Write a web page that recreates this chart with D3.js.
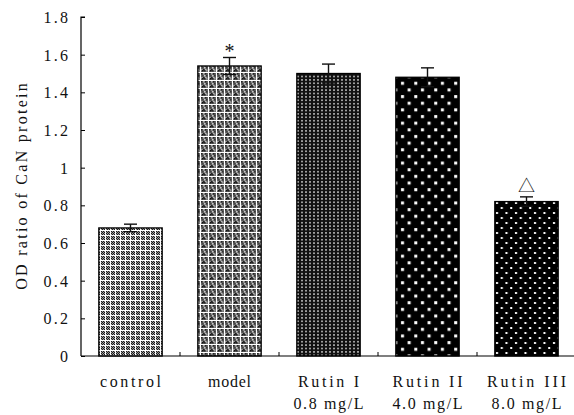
<!DOCTYPE html>
<html>
<head>
<meta charset="utf-8">
<script src="https://cdn.jsdelivr.net/npm/d3@7"></script>
<style>
  html, body { margin: 0; padding: 0; background: #fff; }
  svg text { font-family: "Liberation Serif", "DejaVu Serif", serif; fill: #111; }
</style>
</head>
<body>
<svg id="chart" width="574" height="415"></svg>
<script>
// Group labels (two lines for dosed groups)
const groups = ["control", "model", "Rutin I", "Rutin II", "Rutin III"];
const doses = ["", "", "0.8 mg/L", "4.0 mg/L", "8.0 mg/L"];
// Mean OD ratio and error (SD)
const means = [0.68, 1.54, 1.50, 1.48, 0.82];
const errors = [0.02, 0.045, 0.05, 0.05, 0.025];
// Significance markers drawn over the error bars
const marks = ["", "*", "", "", "△"];
const yTicks = [0, 0.2, 0.4, 0.6, 0.8, 1, 1.2, 1.4, 1.6, 1.8];
const yLabel = "OD ratio of CaN protein";

const svg = d3.select("#chart");
const x0 = 81, x1 = 576, yTop = 17, yBot = 356;
const CH = 9.1; // fixed advance per character (half-width glyphs)

// Give every label a fixed per-character advance, like a half-width CJK font
function mono(sel) {
  sel.each(function () {
    const t = d3.select(this);
    const n = t.text().length;
    if (n > 1) t.attr("textLength", (n - 0.3) * CH).attr("lengthAdjust", "spacing");
  });
}

const x = d3.scaleBand().domain(groups).range([x0, x1]).paddingInner(0.36).paddingOuter(0.18);
const y = d3.scaleLinear().domain([0, 1.8]).range([yBot, yTop]);

// ---- fill patterns, one per group ----
const defs = svg.append("defs");

// control: fine pixel checker crossed by white grid lines
{
  const p = defs.append("pattern").attr("id", "pat0").attr("patternUnits", "userSpaceOnUse")
    .attr("width", 5).attr("height", 5);
  p.append("rect").attr("width", 5).attr("height", 5).attr("fill", "#9a9a9a");
  for (let i = 0; i < 5; i++) for (let j = 0; j < 5; j++) {
    if ((i + j) % 2 === 0) p.append("rect").attr("x", i).attr("y", j).attr("width", 1).attr("height", 1).attr("fill", "#1a1a1a");
  }
  p.append("rect").attr("x", 0).attr("y", 0).attr("width", 5).attr("height", 1).attr("fill", "#fff");
  p.append("rect").attr("x", 0).attr("y", 0).attr("width", 1).attr("height", 5).attr("fill", "#fff");
}
// model: grey mottled cells in a white grid
{
  const p = defs.append("pattern").attr("id", "pat1").attr("patternUnits", "userSpaceOnUse")
    .attr("width", 8).attr("height", 8);
  p.append("rect").attr("width", 8).attr("height", 8).attr("fill", "#666");
  const cells = [[1,1,"#222"],[3,1,"#aaa"],[5,1,"#222"],[2,3,"#444"],[4,3,"#ccc"],[6,3,"#333"],
                 [1,5,"#aaa"],[3,5,"#222"],[5,5,"#bbb"],[2,6,"#111"],[6,6,"#999"],[4,6,"#222"]];
  cells.forEach(c => p.append("rect").attr("x", c[0]).attr("y", c[1]).attr("width", 1.5).attr("height", 1.5).attr("fill", c[2]));
  p.append("rect").attr("x", 0).attr("y", 0).attr("width", 8).attr("height", 1).attr("fill", "#fff");
  p.append("rect").attr("x", 0).attr("y", 0).attr("width", 1).attr("height", 8).attr("fill", "#fff");
}
// Rutin I: dense small light dots on black
{
  const p = defs.append("pattern").attr("id", "pat2").attr("patternUnits", "userSpaceOnUse")
    .attr("width", 4).attr("height", 3.4);
  p.append("rect").attr("width", 4).attr("height", 3.4).attr("fill", "#111");
  p.append("rect").attr("x", 1).attr("y", 1).attr("width", 2).attr("height", 1.4).attr("fill", "#bbb");
}
// Rutin II: staggered white squares on black
{
  const w = 13.3, h = 13.3;
  const p = defs.append("pattern").attr("id", "pat3").attr("patternUnits", "userSpaceOnUse")
    .attr("width", w).attr("height", h);
  p.append("rect").attr("width", w).attr("height", h).attr("fill", "#000");
  p.append("rect").attr("x", 2).attr("y", 2).attr("width", 3).attr("height", 3).attr("fill", "#fff");
  p.append("rect").attr("x", 2 + w / 2).attr("y", 2 + h / 2).attr("width", 3).attr("height", 3).attr("fill", "#fff");
}
// Rutin III: smaller staggered white squares on black
{
  const w = 9.5, h = 10;
  const p = defs.append("pattern").attr("id", "pat4").attr("patternUnits", "userSpaceOnUse")
    .attr("width", w).attr("height", h);
  p.append("rect").attr("width", w).attr("height", h).attr("fill", "#000");
  p.append("rect").attr("x", 2).attr("y", 2).attr("width", 2).attr("height", 2).attr("fill", "#fff");
  p.append("rect").attr("x", 2 + w / 2).attr("y", 2 + h / 2).attr("width", 2).attr("height", 2).attr("fill", "#fff");
}

// ---- bars ----
svg.append("g").selectAll("rect").data(groups).join("rect")
  .attr("x", d => x(d))
  .attr("y", (d, i) => y(means[i]))
  .attr("width", x.bandwidth())
  .attr("height", (d, i) => y(0) - y(means[i]))
  .attr("fill", (d, i) => `url(#pat${i})`)
  .attr("stroke", "#000").attr("stroke-width", 1.3);

// ---- error bars ----
const eb = svg.append("g").attr("stroke", "#111").attr("stroke-width", 1.4);
groups.forEach((g, i) => {
  const cx = x(g) + x.bandwidth() / 2;
  const hi = y(means[i] + errors[i]), lo = y(means[i] - errors[i]);
  eb.append("line").attr("x1", cx).attr("x2", cx).attr("y1", hi).attr("y2", lo);
  eb.append("line").attr("x1", cx - 6.5).attr("x2", cx + 6.5).attr("y1", hi).attr("y2", hi);
  eb.append("line").attr("x1", cx - 6.5).attr("x2", cx + 6.5).attr("y1", lo).attr("y2", lo);
});

// ---- significance marks ----
svg.append("g").selectAll("text").data(groups).join("text")
  .attr("x", d => x(d) + x.bandwidth() / 2)
  .attr("y", (d, i) => y(means[i] + errors[i]) + (marks[i] === "*" ? 1 : -5))
  .attr("text-anchor", "middle")
  .attr("font-size", (d, i) => marks[i] === "*" ? 20 : 17)
  .style("font-family", (d, i) => marks[i] === "*" ? "'Liberation Serif', serif" : "'Noto Sans CJK SC', 'DejaVu Sans', sans-serif")
  .text((d, i) => marks[i]);

// ---- y axis ----
const yAxis = d3.axisRight(y).tickValues(yTicks).tickSize(4).tickFormat(d3.format("~g"));
const gy = svg.append("g").attr("transform", `translate(${x0},0)`).call(yAxis);
gy.select(".domain").attr("stroke", "#000").attr("stroke-width", 1.2).attr("d", `M4,${yTop}H0V${yBot}`);
gy.selectAll(".tick line").attr("stroke", "#000");
gy.selectAll(".tick text").attr("x", -13).attr("text-anchor", "end").attr("dy", "0.35em")
  .attr("font-size", 16).style("font-family", "'Liberation Serif', serif").attr("fill", "#111")
  .call(mono);

// ---- x axis ----
const gx = svg.append("g").attr("transform", `translate(0,${yBot})`);
gx.append("line").attr("x1", x0).attr("x2", 574).attr("y1", 0).attr("y2", 0)
  .attr("stroke", "#000").attr("stroke-width", 1.2);
const step = x.step();
const bounds = d3.range(1, groups.length).map(k => x(groups[k]) - (step - x.bandwidth()) / 2);
gx.selectAll("line.tk").data(bounds).join("line").attr("class", "tk")
  .attr("x1", d => d).attr("x2", d => d).attr("y1", 0).attr("y2", -4)
  .attr("stroke", "#000");

const lab = svg.append("g");
groups.forEach((g, i) => {
  const cx = x(g) + x.bandwidth() / 2;
  lab.append("text").attr("x", cx).attr("y", 387).attr("text-anchor", "middle").attr("font-size", 16).text(g).call(mono);
  if (doses[i]) lab.append("text").attr("x", cx).attr("y", 409).attr("text-anchor", "middle").attr("font-size", 16).text(doses[i]).call(mono);
});

// ---- y axis title ----
svg.append("text")
  .attr("transform", `translate(27,${(yTop + yBot) / 2}) rotate(-90)`)
  .attr("text-anchor", "middle").attr("font-size", 16)
  .text(yLabel).call(mono);
</script>
</body>
</html>
